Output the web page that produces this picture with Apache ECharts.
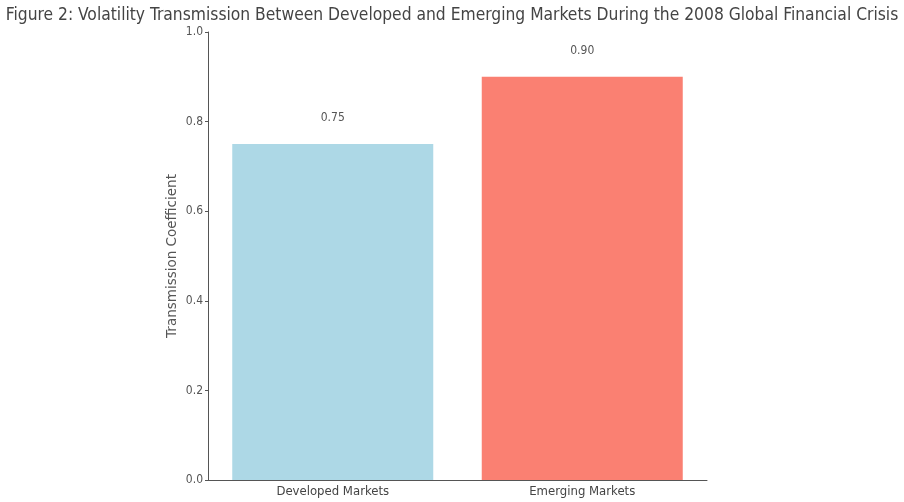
<!DOCTYPE html>
<html><head><meta charset="utf-8">
<script src="https://cdn.jsdelivr.net/npm/echarts@6/dist/echarts.min.js"></script>
<style>html,body{margin:0;padding:0;background:#fff}#c{width:904px;height:502px}</style>
</head><body><div id="c"></div>
<script>
const categories = ['Developed Markets', 'Emerging Markets'];
const values = [0.75, 0.90];
const colors = ['#ADD8E6', '#FA8072'];
const yTicks = [0, 0.2, 0.4, 0.6, 0.8, 1.0];

const chart = echarts.init(document.getElementById('c'));
chart.setOption({
  animation: false,
  backgroundColor: '#fff',
  title: {
    text: 'Figure 2: Volatility Transmission Between Developed and Emerging Markets During the 2008 Global Financial Crisis',
    left: 'center', top: 2,
    textStyle: { fontFamily: 'DejaVu Sans Condensed', fontSize: 17.3, fontWeight: 'normal', color: '#444' }
  },
  grid: { left: 208, right: 197, top: 32, bottom: 22 },
  xAxis: {
    type: 'category', data: categories,
    axisLine: { lineStyle: { color: '#555' } },
    axisTick: { alignWithLabel: true, length: 3, lineStyle: { color: '#555' } },
    axisLabel: { color: '#444', fontFamily: 'DejaVu Sans Condensed', fontSize: 13, margin: 5 }
  },
  yAxis: {
    type: 'value', min: 0, max: 1, interval: 0.2,
    name: 'Transmission Coefficient', nameLocation: 'middle', nameGap: 29, nameMoveOverlap: false,
    nameTextStyle: { color: '#555', fontFamily: 'DejaVu Sans', fontSize: 13.5 },
    axisLine: { show: true, lineStyle: { color: '#555' } },
    axisTick: { show: true, length: 3, lineStyle: { color: '#555' } },
    splitLine: { show: false },
    axisLabel: { color: '#555', fontFamily: 'DejaVu Sans Condensed', fontSize: 12, margin: 5,
      formatter: v => yTicks.includes(Math.round(v*10)/10) ? v.toFixed(1) : '' }
  },
  series: [{
    type: 'bar', barWidth: 201,
    data: values.map((v, i) => ({ value: v, itemStyle: { color: colors[i] } })),
    label: { show: true, position: 'top', distance: 20, color: '#555', fontFamily: 'DejaVu Sans Condensed', fontSize: 12,
      formatter: p => p.value.toFixed(2) }
  }]
});
</script></body></html>
